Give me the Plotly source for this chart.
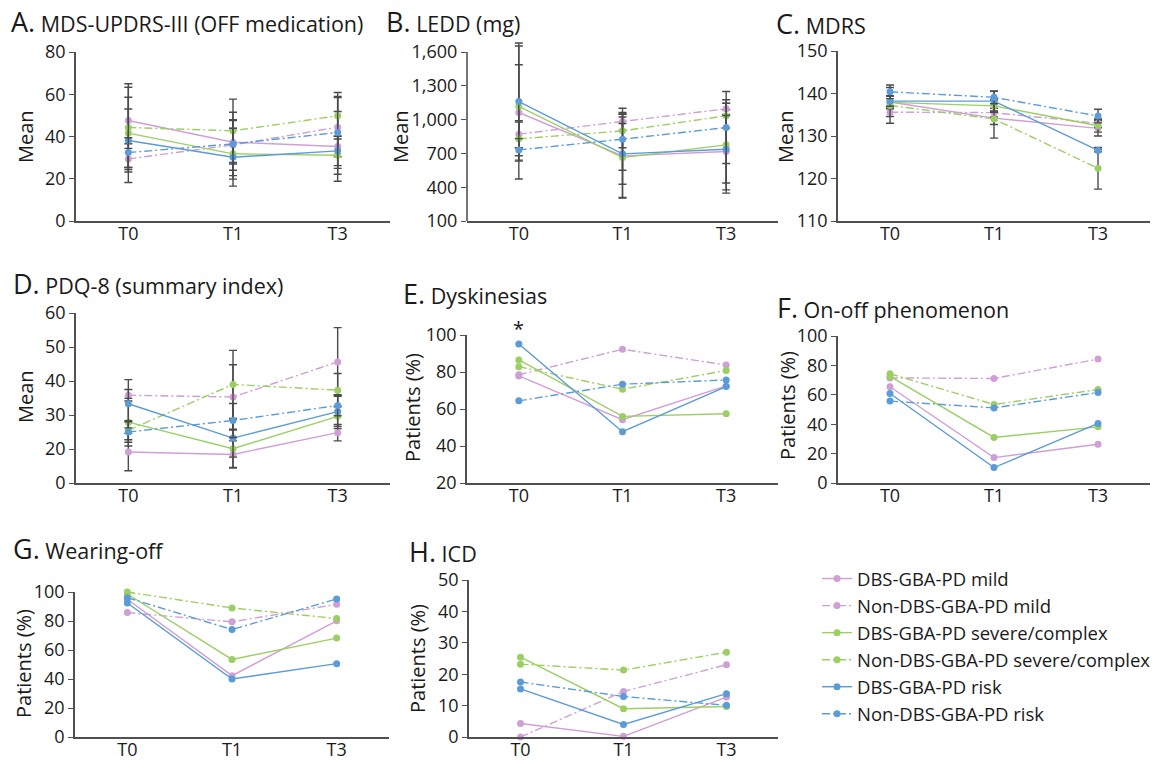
import plotly.graph_objects as go

W, H = 1154, 760
timepoints = ["T0", "T1", "T3"]
series_names = ["DBS-GBA-PD mild", "Non-DBS-GBA-PD mild",
                "DBS-GBA-PD severe/complex", "Non-DBS-GBA-PD severe/complex",
                "DBS-GBA-PD risk", "Non-DBS-GBA-PD risk"]
series_colors = ["#cf9fd6", "#cf9fd6", "#9ccf63", "#9ccf63", "#5b9bd8", "#5b9bd8"]
series_dash = ["solid", "8px,3px,2px,3px", "solid", "8px,3px,2px,3px", "solid", "8px,3px,2px,3px"]

# Panel A: MDS-UPDRS-III (mean, SD)
A_mean = [[47.6, 37.3, 35.3], [29.4, 36.0, 44.4], [41.6, 31.8, 31.1],
          [44.3, 42.7, 49.8], [38.1, 30.2, 33.2], [32.4, 36.5, 41.9]]
A_sd = [[11, 10.3, 16.5], [5, 12, 14], [23.4, 12, 9],
        [19, 15, 11], [14.9, 13.7, 7], [7, 15, 17]]
# Panel B: LEDD
B_mean = [[1063, 678, 717], [871, 983, 1096], [1117, 663, 776],
          [829, 900, 1034], [1160, 696, 737], [731, 826, 930]]
B_sd = [[590, 370, 370], [120, 80, 50], [370, 360, 400],
        [150, 150, 110], [520, 270, 300], [100, 275, 320]]
# Panel C: MDRS
C_mean = [[138.0, 134.2, 131.8], [135.6, 135.5, 133.0], [137.9, 137.1, 132.4],
          [137.2, 134.0, 122.4], [138.2, 138.2, 126.6], [140.4, 139.1, 134.7]]
C_sd = [[1.5, 1.5, 1.8], [1.0, 1.0, 1.0], [1.5, 1.5, 1.5],
        [4.2, 4.5, 4.9], [1.2, 2.3, 0.3], [1.6, 1.5, 1.6]]
# Panel D: PDQ-8
D_mean = [[19.1, 18.4, 24.8], [35.8, 35.3, 45.6], [27.9, 20.1, 29.6],
          [25.5, 39.0, 37.3], [33.3, 23.2, 31.0], [25.0, 28.4, 32.8]]
D_sd = [[5.5, 4, 2.4], [1.7, 9.5, 10.1], [7, 5.5, 3],
        [2.8, 10, 4.9], [7.1, 5.6, 5], [3, 5, 3]]
# Panel E: Dyskinesias (%)
E_pct = [[77.9, 54.2, 72.5], [78.5, 92.3, 83.8], [86.5, 56.0, 57.4],
         [82.9, 70.7, 80.8], [95.1, 47.7, 72.1], [64.4, 73.4, 75.7]]
# Panel F: On-off phenomenon (%)
F_pct = [[65.5, 17.3, 26.4], [71.5, 71.1, 84.3], [72.5, 31.0, 38.2],
         [74.3, 53.4, 63.6], [60.9, 10.5, 40.5], [55.7, 51.1, 61.6]]
# Panel G: Wearing-off (%)
G_pct = [[95.0, 42.3, 80.1], [85.8, 79.4, 91.5], [98.6, 53.5, 68.2],
         [100, 89.0, 81.7], [92.4, 40.0, 50.6], [96.1, 74.1, 95.2]]
# Panel H: ICD (%)
H_pct = [[4.3, 0.2, 12.7], [0, 14.5, 23.0], [25.4, 9.0, 9.7],
         [23.2, 21.3, 27.0], [15.3, 4.0, 13.8], [17.5, 12.9, 10.1]]

# tick definitions
A_ticks = [0, 20, 40, 60, 80]
B_ticks = [100, 400, 700, 1000, 1300, 1600]
C_ticks = [110, 120, 130, 140, 150]
D_ticks = [10, 20, 30, 40, 50, 60]
D_ticklabels = ["0", "20", "30", "40", "50", "60"]
E_ticks = [20, 40, 60, 80, 100]
F_ticks = [0, 20, 40, 60, 80, 100]
G_ticks = [0, 20, 40, 60, 80, 100]
H_ticks = [0, 10, 20, 30, 40, 50]

panels = [
    dict(m=A_mean, sd=A_sd, tv=A_ticks, tt=None, rng=[0, 80], xpx=(76, 390), ypx=(52, 221),
         yt="Mean", yt_pos=(25, 137), letter="A.", title="MDS-UPDRS-III (OFF medication)", t_pos=(9, 22)),
    dict(m=B_mean, sd=B_sd, tv=B_ticks, tt=[f"{v:,}" for v in B_ticks], rng=[100, 1700], xpx=(467, 778),
         ypx=(52 - 100 * 169 / 1500, 221), axis_top=1600,
         yt="Mean", yt_pos=(400, 137), letter="B.", title="LEDD (mg)", t_pos=(384, 22)),
    dict(m=C_mean, sd=C_sd, tv=C_ticks, tt=None, rng=[110, 150], xpx=(838, 1150), ypx=(51, 221),
         yt="Mean", yt_pos=(785, 137), letter="C.", title="MDRS", t_pos=(774, 24)),
    dict(m=D_mean, sd=D_sd, tv=D_ticks, tt=D_ticklabels, rng=[10, 60], xpx=(76, 390), ypx=(313, 483),
         yt="Mean", yt_pos=(25, 397), letter="D.", title="PDQ-8 (summary index)", t_pos=(11, 283)),
    dict(m=E_pct, sd=None, tv=E_ticks, tt=None, rng=[20, 100], xpx=(467, 778), ypx=(335, 483),
         yt="Patients (%)", yt_pos=(412, 408), letter="E.", title="Dyskinesias", t_pos=(401, 293)),
    dict(m=F_pct, sd=None, tv=F_ticks, tt=None, rng=[0, 100], xpx=(838, 1150), ypx=(336, 483),
         yt="Patients (%)", yt_pos=(787, 406), letter="F.", title="On-off phenomenon", t_pos=(775, 307)),
    dict(m=G_pct, sd=None, tv=G_ticks, tt=None, rng=[0, 100], xpx=(75, 389), ypx=(592, 737),
         yt="Patients (%)", yt_pos=(23, 664), letter="G.", title="Wearing-off", t_pos=(11, 548)),
    dict(m=H_pct, sd=None, tv=H_ticks, tt=None, rng=[0, 50], xpx=(469, 778), ypx=(580, 737),
         yt="Patients (%)", yt_pos=(417, 659), letter="H.", title="ICD", t_pos=(407, 551)),
]

FONT = "Open Sans"
AXC = "#505050"
TXT = "#1a1a1a"
fig = go.Figure()
annotations = []
shapes = []
layout_axes = {}

for i, p in enumerate(panels):
    n = i + 1
    xa = "x" if n == 1 else f"x{n}"
    ya = "y" if n == 1 else f"y{n}"
    for s in range(6):
        err = None
        if p["sd"] is not None:
            err = dict(type="data", array=p["sd"][s], visible=True, color="#4a4a4a",
                       thickness=1.4, width=4)
        fig.add_trace(go.Scatter(
            x=timepoints, y=p["m"][s], xaxis=xa, yaxis=ya, mode="lines+markers",
            name=series_names[s], legendgroup=f"g{s}", showlegend=(i == 0),
            line=dict(color=series_colors[s], width=1.4, dash=series_dash[s]),
            marker=dict(color=series_colors[s], size=7),
            error_y=err, cliponaxis=False,
        ))
    x0, x1 = p["xpx"]
    yt, yb = p["ypx"]
    layout_axes[f"xaxis{'' if n == 1 else n}"] = dict(
        domain=[x0 / W, x1 / W], anchor=ya, type="category", range=[-0.5, 2.5],
        showline=True, linecolor=AXC, linewidth=1.6, ticks="", showgrid=False,
        zeroline=False, automargin=False, ticklabelstandoff=-4,
        tickfont=dict(family=FONT, size=18, color=TXT),
    )
    yax = dict(
        domain=[1 - yb / H, 1 - yt / H], anchor=xa, range=p["rng"],
        tickmode="array", tickvals=p["tv"], ticks="outside", ticklen=5,
        tickwidth=1.4, tickcolor=AXC, showline=("axis_top" not in p),
        linecolor=AXC, linewidth=1.6, showgrid=False, zeroline=False, automargin=False,
        tickfont=dict(family=FONT, size=18, color=TXT),
    )
    if p["tt"] is not None:
        yax["ticktext"] = p["tt"]
    layout_axes[f"yaxis{'' if n == 1 else n}"] = yax
    if "axis_top" in p:
        shapes.append(dict(type="line", xref=f"{xa} domain", yref=ya, x0=0, x1=0,
                           y0=p["rng"][0], y1=p["axis_top"],
                           line=dict(color=AXC, width=1.6)))
    annotations.append(dict(
        text=p["yt"], x=p["yt_pos"][0] / W, y=1 - p["yt_pos"][1] / H, xref="paper", yref="paper",
        textangle=-90, showarrow=False, xanchor="center", yanchor="middle",
        font=dict(family=FONT, size=20, color=TXT)))
    annotations.append(dict(
        text=f"<span style='font-size:27px'>{p['letter']}</span> {p['title']}",
        x=p["t_pos"][0] / W, y=1 - p["t_pos"][1] / H, xref="paper", yref="paper",
        showarrow=False, xanchor="left", yanchor="middle",
        font=dict(family=FONT, size=21.5, color=TXT)))

annotations.append(dict(text="*", x="T0", y=E_pct[4][0], xref="x5", yref="y5",
                        yshift=16, showarrow=False,
                        font=dict(family=FONT, size=20, color=TXT)))

fig.update_layout(
    template="none",
    width=W, height=H, margin=dict(l=0, r=0, t=0, b=0, autoexpand=False),
    paper_bgcolor="white", plot_bgcolor="white",
    font=dict(family=FONT, size=18, color=TXT),
    showlegend=True,
    legend=dict(x=817 / W, y=1 - 560 / H, xanchor="left", yanchor="top",
                font=dict(family=FONT, size=18.5, color=TXT),
                bgcolor="rgba(0,0,0,0)", tracegroupgap=0, itemwidth=30),
    annotations=annotations, shapes=shapes,
    **layout_axes,
)

fig.write_html("out.html", config={"displayModeBar": False},
               post_script="document.body.style.margin='0';document.body.style.overflow='hidden';")
